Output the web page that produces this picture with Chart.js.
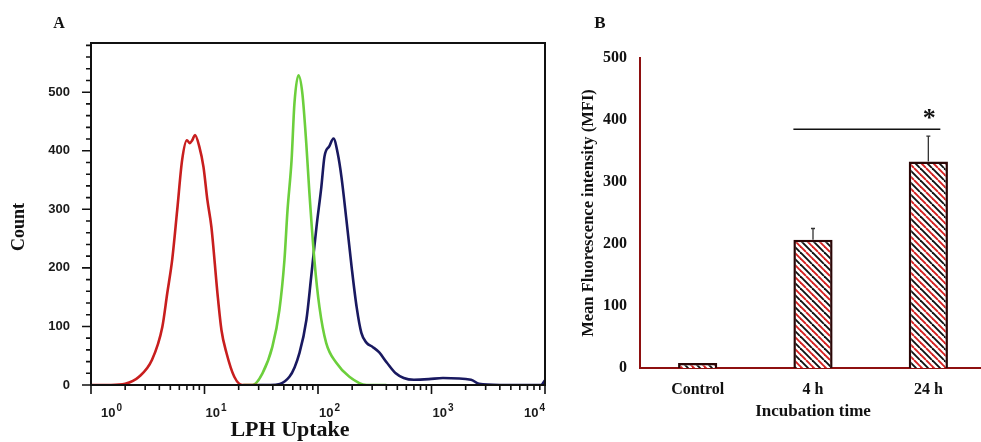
<!DOCTYPE html>
<html>
<head>
<meta charset="utf-8">
<script src="https://cdn.jsdelivr.net/npm/chart.js@4"></script>
<style>
  html, body { margin: 0; padding: 0; background: #fff; overflow: hidden; }
  #histA { position: absolute; left: 0; top: 0; }
  #barsB { position: absolute; left: 560px; top: 0; }
</style>
</head>
<body>
<canvas id="histA" width="560" height="442"></canvas>
<canvas id="barsB" width="426" height="442"></canvas>
<script>
'use strict';
// panel A: flow cytometry histograms (LPH uptake, log scale)
const redX = [1, 1.5, 2.0, 2.65, 3.45, 4.25, 4.7, 5.2, 5.75, 6.35, 7.0, 7.4, 7.8, 8.25, 9.0, 9.8, 10.6, 11.5, 13.0, 14.1, 15.6, 18.3, 21.5, 30];
const redY = [0, 0, 2, 14, 43, 99, 157, 215, 299, 384, 418, 413, 418, 427, 407, 372, 316, 270, 157, 94, 55, 14, 0, 0];
const greenX = [22, 26.5, 32.4, 39.6, 45.7, 50.6, 53.9, 58.5, 62, 67.3, 72.8, 78.8, 84, 93, 103, 118, 145, 189, 268, 400];
const greenY = [0, 0, 20, 65, 128, 213, 299, 384, 481, 529, 498, 413, 328, 213, 133, 72, 38, 14, 0, 0];
const navyX = [30, 38, 56, 68.7, 79, 87, 97, 107, 114, 126, 137, 149, 161, 178, 198, 219, 241, 268, 303, 345, 405, 484, 569, 700, 946, 1260, 2230, 2620, 4000, 9200, 10000];
const navyY = [0, 0, 14, 55, 111, 184, 270, 338, 390, 408, 421, 396, 355, 282, 201, 133, 89, 72, 65, 56, 38, 20, 12, 9, 10, 12, 9, 2, 0, 0, 8];
const countTicks = [0, 100, 200, 300, 400, 500];
const decades = [0, 1, 2, 3, 4];

// panel B: mean fluorescence intensity
const groups = ['Control', '4 h', '24 h'];
const mfi = [8, 207, 333];
const mfiErr = [0, 18, 41];
const sigLevel = 385;

const serif = '"Liberation Serif", "Times New Roman", serif';
const sans = '"Liberation Sans", Arial, sans-serif';

const pts = (xs, ys) => xs.map((x, i) => ({x, y: ys[i]}));

// frame, major/minor ticks, decade labels and loose texts for panel A
const frameA = {
  id: 'frameA',
  afterDraw(chart) {
    const {ctx, chartArea: a, scales: {x, y}} = chart;
    ctx.save();
    ctx.strokeStyle = '#111';
    ctx.lineWidth = 2;
    ctx.strokeRect(a.left, a.top, a.right - a.left, a.bottom - a.top);
    ctx.lineWidth = 1.6;
    ctx.beginPath();
    for (let v = 0; v <= y.max; v += 20) {
      const py = y.getPixelForValue(v);
      const len = v % 100 === 0 ? 9 : 5;
      ctx.moveTo(a.left - len, py);
      ctx.lineTo(a.left, py);
    }
    for (let d = 1; d <= x.max; d *= 10) {
      for (let m = 1; m <= 9; m++) {
        const v = d * m;
        if (v > x.max) break;
        const px = x.getPixelForValue(v);
        const len = m === 1 ? 9 : 5;
        ctx.moveTo(px, a.bottom);
        ctx.lineTo(px, a.bottom + len);
      }
    }
    ctx.stroke();

    // 10^n labels with raised exponent
    ctx.fillStyle = '#1a1a1a';
    ctx.textBaseline = 'alphabetic';
    ctx.textAlign = 'left';
    decades.forEach((e, i) => {
      const px = x.getPixelForValue(10 ** e);
      ctx.font = 'bold 13px ' + sans;
      const wBase = ctx.measureText('10').width;
      ctx.font = 'bold 10px ' + sans;
      const wExp = ctx.measureText(String(e)).width;
      let left = px + 1;
      if (i === 0) left = px + 10;
      if (i === decades.length - 1) left = px - wBase - wExp - 1;
      ctx.font = 'bold 13px ' + sans;
      ctx.fillText('10', left, a.bottom + 32);
      ctx.font = 'bold 10px ' + sans;
      ctx.fillText(String(e), left + wBase + 1, a.bottom + 26);
    });

    ctx.fillStyle = '#111';
    ctx.textAlign = 'center';
    ctx.textBaseline = 'middle';
    ctx.font = 'bold 16px ' + serif;
    ctx.fillText('A', 59, 24);
    ctx.font = 'bold 22px ' + serif;
    ctx.fillText('LPH Uptake', 290, 430);
    ctx.save();
    ctx.translate(19, 227);
    ctx.rotate(-Math.PI / 2);
    ctx.font = 'bold 18px ' + serif;
    ctx.fillText('Count', 0, 0);
    ctx.restore();
    ctx.restore();
  }
};

new Chart(document.getElementById('histA'), {
  type: 'line',
  data: {
    datasets: [
      {label: 'Control', data: pts(redX, redY), borderColor: '#c81e1e'},
      {label: 'Free', data: pts(greenX, greenY), borderColor: '#6ccf3c'},
      {label: 'LPH', data: pts(navyX, navyY), borderColor: '#191960'},
    ],
  },
  options: {
    responsive: false,
    animation: false,
    layout: {padding: {top: 43, right: 15, left: 0, bottom: 0}},
    elements: {
      point: {radius: 0},
      line: {borderWidth: 2.6, cubicInterpolationMode: 'monotone'},
    },
    plugins: {legend: {display: false}, tooltip: {enabled: false}},
    scales: {
      x: {
        type: 'logarithmic',
        min: 1,
        max: 10000,
        grid: {display: false, drawTicks: false},
        border: {display: false},
        ticks: {display: false},
        afterFit: (s) => { s.height = 57; },
      },
      y: {
        min: 0,
        max: 584,
        grid: {display: false, drawTicks: false},
        border: {display: false},
        afterBuildTicks: (s) => { s.ticks = countTicks.map((v) => ({value: v})); },
        ticks: {
          padding: 21,
          color: '#1a1a1a',
          font: {family: sans, weight: 'bold', size: 13},
        },
        afterFit: (s) => { s.width = 91; },
      },
    },
  },
  plugins: [frameA],
});

// hatched fill for the bars: black and red diagonals
const hatch = () => {
  const c = document.createElement('canvas');
  c.width = 12;
  c.height = 12;
  const g = c.getContext('2d');
  g.fillStyle = '#fff';
  g.fillRect(0, 0, 12, 12);
  g.lineWidth = 1.9;
  [[0, '#111'], [6, '#d42020']].forEach(([o, col]) => {
    g.strokeStyle = col;
    for (const k of [-12, 0, 12]) {
      g.beginPath();
      g.moveTo(o + k, 0);
      g.lineTo(o + k + 12, 12);
      g.stroke();
    }
  });
  return g.createPattern(c, 'repeat');
};

const extrasB = {
  id: 'extrasB',
  afterDatasetsDraw(chart) {
    const {ctx, scales: {y}} = chart;
    const bars = chart.getDatasetMeta(0).data;
    ctx.save();
    ctx.strokeStyle = '#333';
    ctx.lineWidth = 1.3;
    ctx.beginPath();
    bars.forEach((bar, i) => {
      if (!mfiErr[i]) return;
      const top = y.getPixelForValue(mfi[i] + mfiErr[i]);
      ctx.moveTo(bar.x, bar.y);
      ctx.lineTo(bar.x, top);
      ctx.moveTo(bar.x - 2, top);
      ctx.lineTo(bar.x + 2, top);
    });
    ctx.stroke();

    // significance line between 4 h and 24 h
    const ly = y.getPixelForValue(sigLevel);
    const x1 = bars[1].x - bars[1].width / 2;
    const x2 = bars[2].x + 12;
    ctx.strokeStyle = '#111';
    ctx.lineWidth = 1.5;
    ctx.beginPath();
    ctx.moveTo(x1, ly);
    ctx.lineTo(x2, ly);
    ctx.stroke();
    ctx.fillStyle = '#111';
    ctx.textAlign = 'center';
    ctx.textBaseline = 'middle';
    ctx.font = 'bold 26px ' + serif;
    ctx.fillText('*', bars[2].x + 1, ly - 10);

    ctx.font = 'bold 17px ' + serif;
    ctx.fillText('B', 40, 24);
    ctx.restore();
  }
};

const axisRed = '#8e1010';
new Chart(document.getElementById('barsB'), {
  type: 'bar',
  data: {
    labels: groups,
    datasets: [{
      data: mfi,
      backgroundColor: hatch(),
      borderColor: '#2a0606',
      borderWidth: 2.5,
      borderSkipped: 'bottom',
      barPercentage: 0.34,
      categoryPercentage: 1,
    }],
  },
  options: {
    responsive: false,
    animation: false,
    layout: {padding: {top: 58, right: 0, left: 0, bottom: 0}},
    plugins: {legend: {display: false}, tooltip: {enabled: false}},
    scales: {
      x: {
        grid: {display: false, drawTicks: false},
        border: {color: axisRed, width: 2},
        ticks: {padding: 12, color: '#111', font: {family: serif, weight: 'bold', size: 16}},
        title: {
          display: true,
          text: 'Incubation time',
          color: '#111',
          font: {family: serif, weight: 'bold', size: 17},
          padding: {top: 0, bottom: 20},
        },
        afterFit: (s) => { s.height = 74; },
      },
      y: {
        min: 0,
        max: 500,
        grid: {display: false, drawTicks: false},
        border: {color: axisRed, width: 2},
        ticks: {stepSize: 100, padding: 13, color: '#111', font: {family: serif, weight: 'bold', size: 16}},
        title: {
          display: true,
          text: 'Mean Fluorescence intensity (MFI)',
          color: '#111',
          font: {family: serif, weight: 'bold', size: 16.5},
          padding: {top: 19, bottom: 0},
        },
        afterFit: (s) => { s.width = 80; },
      },
    },
  },
  plugins: [extrasB],
});
</script>
</body>
</html>
